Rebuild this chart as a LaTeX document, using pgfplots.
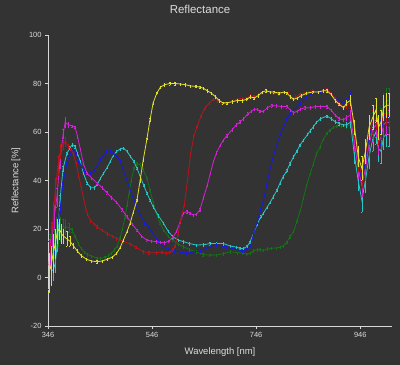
\documentclass[border=0pt]{standalone}
\usepackage{fontspec}
\setmainfont{Liberation Sans}
\usepackage{pgfplots}
\usepackage{pgfplotstable}
\pgfplotsset{compat=1.18}
\definecolor{bg}{RGB}{51,51,51}
\definecolor{axc}{RGB}{215,215,215}
\definecolor{txt}{RGB}{220,220,220}
\definecolor{cred}{RGB}{185,20,25}
\definecolor{cyellow}{RGB}{225,225,40}
\definecolor{cblue}{RGB}{25,25,225}
\definecolor{cmagenta}{RGB}{210,35,210}
\definecolor{ccyan}{RGB}{40,200,200}
\definecolor{cgreen}{RGB}{20,115,20}

\pgfplotstableread[row sep=\\]{
x y e\\
348 2 8\\ 352 5 8\\ 356 10 8\\ 360 14 6\\ 364 19 5\\ 368 20 4\\ 372 18 4\\ 376 17 3\\ 382 16 3\\ 388 15 2\\ 395 13 1\\
402 11 0.5\\ 410 9 0.5\\ 420 7.5 0.5\\ 430 6.8 0.5\\ 440 6.5 0.5\\ 450 6.8 0.5\\ 460 7.5 0.5\\ 470 8.5 0.5\\ 478 10 0.5\\
485 12.5 0.5\\ 491 15.5 0.5\\ 498 19 0.5\\ 504 22.5 0.5\\ 510 27 0.5\\ 517 32 0.5\\ 523 40 0.5\\ 529 48.5 0.5\\ 536 57 0.5\\
542 65 0.5\\ 548 72 0.5\\ 555 76 0.5\\ 562 78.5 0.5\\ 570 79.5 0.5\\ 580 80 0.5\\ 590 80 0.5\\ 600 79.8 0.5\\ 610 79.5 0.5\\
620 79 0.5\\ 630 78.8 0.5\\ 638 78.5 0.5\\ 645 78 0.5\\ 652 77 0.5\\ 660 76 0.5\\ 668 74.5 0.5\\ 675 73 0.5\\ 682 72 0.5\\
690 72 0.5\\ 700 72.5 0.5\\ 710 73 0.5\\ 720 73 0.5\\ 728 73.5 0.5\\ 735 74.5 0.5\\ 742 74 0.5\\ 750 75 0.5\\ 758 76.5 0.5\\
765 77 0.5\\ 773 76.5 0.5\\ 780 76.5 0.5\\ 790 76 0.5\\ 800 76.5 0.5\\ 805 76 0.5\\ 812 74.5 0.5\\ 818 73.5 0.5\\ 825 74 0.5\\
833 75 0.5\\ 843 76 0.5\\ 855 76.5 0.5\\ 865 76.5 0.5\\ 875 77 0.5\\ 882 77 0.5\\ 890 75.5 0.5\\ 898 73 0.5\\ 905 71.5 0.5\\
914 70 0.5\\ 920 72 1\\ 927 73 2\\ 935 62 3\\ 942 50 4\\ 949 45 5\\ 956 52 5\\ 963 62 5\\ 970 66 5\\ 976 69 5\\ 981 62 5\\
986 64 5\\ 991 70 5\\ 996 71 5\\ 1001 71 5\\
}\tYellow

\pgfplotstableread[row sep=\\]{
x y e\\
348 5 10\\ 352 15 8\\ 356 25 6\\ 360 36 5\\ 365 46 4\\ 370 52 3\\ 375 55 2\\ 380 56 2\\ 385 54 1\\ 390 53 0.5\\
395 51 0.5\\ 400 47 0.5\\ 405 42 0.5\\ 410 37 0.5\\ 414 33 0.5\\ 418 29 0.5\\ 422 26 0.5\\ 428 23.5 0.5\\ 435 22 0.5\\
440 21 0.5\\ 450 19.5 0.5\\ 460 18 0.5\\ 470 17 0.5\\ 478 16 0.5\\ 490 15 0.5\\ 504 13.8 0.5\\ 515 12.5 0.5\\ 529 10.6 0.5\\
540 10.2 0.5\\ 554 10.2 0.5\\ 565 10.5 0.5\\ 573 10 0.5\\ 580 10.5 0.5\\ 586 11.5 0.5\\ 590 13 0.5\\ 596 18 0.5\\ 602 25 0.5\\
608 30 0.5\\ 614 40 0.5\\ 620 51 0.5\\ 626 58 0.5\\ 632 62 0.5\\ 640 66.5 0.5\\ 648 70 0.5\\ 656 72 0.5\\ 664 73.5 0.5\\
672 73 0.5\\ 680 72 0.5\\ 690 72 0.5\\ 700 72.5 0.5\\ 710 73.5 0.5\\ 720 74 0.5\\ 728 74 0.5\\ 735 75 0.5\\ 742 74.5 0.5\\
750 75.5 0.5\\ 758 76.5 0.5\\ 765 77 0.5\\ 773 76.5 0.5\\ 780 76 0.5\\ 790 75.5 0.5\\ 800 76.5 0.5\\ 808 76 0.5\\ 815 74 0.5\\
822 74.5 0.5\\ 830 75.5 0.5\\ 843 76.5 0.5\\ 855 77 0.5\\ 865 76.5 0.5\\ 875 77 0.5\\ 882 77.5 0.5\\ 890 76 0.5\\ 898 74 0.5\\
905 72 0.5\\ 914 70 0.5\\ 920 71 1\\ 927 72 2\\ 935 60 3\\ 942 48 4\\ 949 42 5\\ 956 50 5\\ 963 60 5\\ 970 64 5\\ 976 66 5\\
981 60 5\\ 986 62 5\\ 991 67 5\\ 996 68 5\\ 1001 67 5\\
}\tRed

\pgfplotstableread[row sep=\\]{
x y e\\
356 8 3\\ 360 12 2\\ 364 20 2\\ 369 28 1\\ 375 39 0.5\\ 382 47 0.5\\ 388 51 0.5\\ 395 52.7 0.5\\ 400 51 0.5\\ 405 48 0.5\\
410 46 0.5\\ 416 44 0.5\\ 421 43 0.5\\ 428 43 0.5\\ 434 44 0.5\\ 440 46 0.5\\ 447 48.5 0.5\\ 453 50.5 0.5\\ 459 52 0.5\\
466 52 0.5\\ 472 51.3 0.5\\ 478 50 0.5\\ 485 48 0.5\\ 491 44 0.5\\ 498 40 0.5\\ 504 36 0.5\\ 511 32 0.5\\ 518 28.5 0.5\\
525 25 0.5\\ 532 22.5 0.5\\ 540 20.5 0.5\\ 548 18 0.5\\ 558 15 0.5\\ 568 12.5 0.5\\ 578 11.5 0.5\\ 590 11 0.5\\ 600 10.5 0.5\\
612 10 0.5\\ 625 10.5 0.5\\ 638 11 0.5\\ 650 12 0.5\\ 660 13 0.5\\ 670 13.5 0.5\\ 680 13 0.5\\ 690 12.5 0.5\\ 700 12 0.5\\
710 11.5 0.5\\ 720 11 0.5\\ 728 11.5 0.5\\ 735 13 0.5\\ 741 18 0.5\\ 748 23 0.5\\ 755 28 0.5\\ 760 32 0.5\\ 766 38 0.5\\
772 44 0.5\\ 779 50 0.5\\ 786 55 0.5\\ 792 59 0.5\\ 798 62 0.5\\ 805 65 0.5\\ 811 67.5 0.5\\ 818 69 0.5\\ 825 70.5 0.5\\
831 72 0.5\\ 837 73 0.5\\ 843 74.5 0.5\\ 850 75.5 0.5\\ 860 76 0.5\\ 870 76.5 0.5\\ 882 77 0.5\\ 890 76 0.5\\ 898 74 0.5\\
905 73 0.5\\ 914 72 0.5\\ 920 73 1\\ 927 75 2\\ 935 60 3\\ 942 48 4\\ 949 40 5\\ 956 48 5\\ 963 58 5\\ 970 64 5\\ 976 66 5\\
981 58 5\\ 986 60 5\\ 991 66 5\\ 996 68 5\\ 1001 66 5\\
}\tBlue

\pgfplotstableread[row sep=\\]{
x y e\\
350 10 6\\ 354 18 5\\ 358 25 5\\ 363 33 4\\ 369 48 3\\ 375 59 2\\ 379 64 2\\ 385 63 1\\ 392 62.5 0.5\\ 398 62 0.5\\
403 58 0.5\\ 408 53 0.5\\ 414 47 0.5\\ 421 43 0.5\\ 430 41 0.5\\ 440 39 0.5\\ 450 37 0.5\\ 459 35 0.5\\ 468 33 0.5\\
478 31 0.5\\ 488 28 0.5\\ 498 25 0.5\\ 508 22 0.5\\ 517 19.5 0.5\\ 526 17 0.5\\ 536 15.4 0.5\\ 545 15 0.5\\ 554 14.8 0.5\\
562 14.5 0.5\\ 570 14.3 0.5\\ 578 15 0.5\\ 586 16.5 0.5\\ 593 19 0.5\\ 600 23 0.5\\ 606 26.5 0.5\\ 613 27.2 0.5\\ 619 26.5 0.5\\
625 25.8 0.5\\ 631 26 0.5\\ 638 28 0.5\\ 645 33 0.5\\ 652 38 0.5\\ 658 43 0.5\\ 664 48 0.5\\ 670 51.5 0.5\\ 677 54.5 0.5\\
683 56.7 0.5\\ 690 58.5 0.5\\ 700 61 0.5\\ 708 63 0.5\\ 715 64.2 0.5\\ 722 65.5 0.5\\ 730 67.5 0.5\\ 737 68.5 0.5\\
743 69.5 0.5\\ 748 69.3 0.5\\ 753 68.5 0.5\\ 760 68.5 0.5\\ 767 70 0.5\\ 776 70.9 0.5\\ 785 70.8 0.5\\ 795 70.5 0.5\\
805 70.5 0.5\\ 812 69 0.5\\ 818 68 0.5\\ 825 68.5 0.5\\ 831 69.5 0.5\\ 840 70 0.5\\ 850 70 0.5\\ 860 70.5 0.5\\ 870 70.5 0.5\\
882 70.5 0.5\\ 890 69 0.5\\ 898 67 0.5\\ 905 65.5 0.5\\ 914 65 0.5\\ 920 66 1\\ 927 67 2\\ 935 55 3\\ 942 45 4\\ 949 38 5\\
956 45 5\\ 963 55 5\\ 970 61 5\\ 976 63 5\\ 981 56 5\\ 986 58 5\\ 991 63 5\\ 996 64 5\\ 1001 64 5\\
}\tMagenta

\pgfplotstableread[row sep=\\]{
x y e\\
352 3 4\\ 356 3 4\\ 360 6 4\\ 364 14 3\\ 369 32 2\\ 375 45 1\\ 382 51 0.5\\ 388 53.5 0.5\\ 393 54.8 0.5\\ 398 54 0.5\\
403 51 0.5\\ 408 48 0.5\\ 414 43 0.5\\ 421 39 0.5\\ 428 37 0.5\\ 435 37 0.5\\ 441 38.5 0.5\\ 447 41 0.5\\ 453 43 0.5\\
460 45.5 0.5\\ 466 48 0.5\\ 472 50.5 0.5\\ 478 52 0.5\\ 485 53 0.5\\ 491 53.4 0.5\\ 498 52 0.5\\ 504 50 0.5\\ 511 47.9 0.5\\
517 45 0.5\\ 523 41.7 0.5\\ 530 38 0.5\\ 536 34.8 0.5\\ 542 32 0.5\\ 548 29.2 0.5\\ 558 25.5 0.5\\ 568 22.3 0.5\\ 577 19 0.5\\
586 16.8 0.5\\ 596 15.5 0.5\\ 606 14.8 0.5\\ 618 14 0.5\\ 631 13.4 0.5\\ 645 13.5 0.5\\ 657 14 0.5\\ 670 14 0.5\\ 683 14 0.5\\
696 13 0.5\\ 708 12.5 0.5\\ 715 12 0.5\\ 722 12 0.5\\ 728 12.7 0.5\\ 734 14.5 0.5\\ 741 18.2 0.5\\ 748 22 0.5\\ 755 25 0.5\\
760 26.5 0.5\\ 767 29 0.5\\ 773 31 0.5\\ 779 33.3 0.5\\ 786 36 0.5\\ 792 39 0.5\\ 798 41.6 0.5\\ 805 44 0.5\\ 811 47 0.5\\
818 49.8 0.5\\ 824 52 0.5\\ 830 54.5 0.5\\ 837 56.7 0.5\\ 845 59 0.5\\ 850 60.5 0.5\\ 856 62.2 0.5\\ 862 64 0.5\\ 870 65.5 0.5\\
882 66.6 0.5\\ 890 65.5 0.5\\ 898 64.2 0.5\\ 905 63.5 0.5\\ 914 62.9 0.5\\ 920 63 1\\ 927 64 2\\ 935 50 3\\ 942 40 4\\
949 32 5\\ 956 40 5\\ 963 50 5\\ 970 57 5\\ 976 60 5\\ 981 53 5\\ 986 52 5\\ 991 58 5\\ 996 59 5\\ 1001 59 5\\
}\tCyan

\pgfplotstableread[row sep=\\]{
x y e\\
350 12 6\\ 354 14 7\\ 358 16 8\\ 362 18 7\\ 366 19 6\\ 370 20 5\\ 375 20 4\\ 380 21 3\\ 386 20.5 2\\ 392 19.5 1\\
398 17 0.5\\ 404 14 0.5\\ 410 12 0.5\\ 416 10.5 0.5\\ 422 9.5 0.5\\ 430 8.8 0.5\\ 440 8 0.5\\ 447 7.9 0.5\\ 455 8.2 0.5\\
462 9 0.5\\ 468 10 0.5\\ 474 11.5 0.5\\ 479 13 0.5\\ 484 16 0.5\\ 489 20 0.5\\ 494 25 0.5\\ 498 30 0.5\\ 502 35 0.5\\
506 40 0.5\\ 511 45 0.5\\ 517 47 0.5\\ 523 46.5 0.5\\ 529 44.4 0.5\\ 536 41 0.5\\ 542 36 0.5\\ 548 31 0.5\\ 554 26.5 0.5\\
561 22.5 0.5\\ 568 19.6 0.5\\ 577 17 0.5\\ 586 15.4 0.5\\ 596 13.8 0.5\\ 606 12.7 0.5\\ 618 11.5 0.5\\ 631 10.6 0.5\\
644 9.5 0.5\\ 657 9.2 0.5\\ 670 9.3 0.5\\ 683 9.8 0.5\\ 696 10.6 0.5\\ 710 10.3 0.5\\ 720 10 0.5\\ 728 9.7 0.5\\ 735 10 0.5\\
741 11 0.5\\ 748 11.5 0.5\\ 754 11.5 0.5\\ 760 11.2 0.5\\ 767 11.8 0.5\\ 775 12 0.5\\ 785 12.2 0.5\\ 792 12.4 0.5\\ 798 13 0.5\\
805 14.5 0.5\\ 811 16.8 0.5\\ 818 19 0.5\\ 824 23 0.5\\ 831 27.8 0.5\\ 837 33 0.5\\ 843 38 0.5\\ 850 43 0.5\\ 856 47 0.5\\
862 51 0.5\\ 869 54 0.5\\ 875 57 0.5\\ 882 59.5 0.5\\ 888 60.8 0.5\\ 895 62 0.5\\ 901 62.4 0.5\\ 910 62.4 0.5\\ 920 62.5 1\\
927 63 2\\ 935 55 3\\ 942 47 4\\ 949 42 5\\ 956 48 5\\ 963 57 5\\ 970 63 5\\ 976 66 5\\ 981 62 5\\ 986 65 5\\ 991 71 5\\
996 73 5\\ 1001 73 5\\
}\tGreen

\begin{document}
\begin{tikzpicture}
\fill[bg] (0,0) rectangle (400bp,365bp);
\path[use as bounding box] (0,0) rectangle (400bp,365bp);
\node[text=txt, font=\fontsize{11.5}{13}\selectfont] at (200bp,355.5bp) {Reflectance};
\begin{axis}[
  at={(48bp,39bp)}, anchor=south west,
  scale only axis, width=344bp, height=291bp,
  xmin=346, xmax=1007, ymin=-20, ymax=100,
  axis lines=left,
  axis line style={-, draw=axc, line width=0.7pt},
  xtick={346,546,746,946}, ytick={-20,0,20,40,60,80,100},
  tick align=outside, major tick length=3bp,
  tick style={draw=axc, line width=0.6pt},
  /pgf/number format/assume math mode=true,
  x tick label style={/pgf/number format/1000 sep={}},
  ticklabel style={text=txt, font=\fontsize{7.5}{8}\selectfont},
  xlabel={Wavelength [nm]}, ylabel={Reflectance [\%]},
  label style={text=txt, font=\fontsize{9.5}{11}\selectfont},
  xlabel style={at={(axis description cs:0.5,-0.089)}, anchor=center},
  ylabel style={at={(axis description cs:-0.093,0.5)}, anchor=center},
  error bars/y dir=both, error bars/y explicit,
  error bars/error mark options={rotate=90, mark size=0.6pt, line width=0.35pt},
  error bars/error bar style={line width=0.45pt},
  every axis plot/.append style={line width=0.8pt, mark=none},
]
\addplot[cgreen] table[x=x, y=y, y error=e] {\tGreen};
\addplot[ccyan] table[x=x, y=y, y error=e] {\tCyan};
\addplot[cblue] table[x=x, y=y, y error=e] {\tBlue};
\addplot[cmagenta] table[x=x, y=y, y error=e] {\tMagenta};
\addplot[cred] table[x=x, y=y, y error=e] {\tRed};
\addplot[cyellow] table[x=x, y=y, y error=e] {\tYellow};
\end{axis}
\end{tikzpicture}
\end{document}
